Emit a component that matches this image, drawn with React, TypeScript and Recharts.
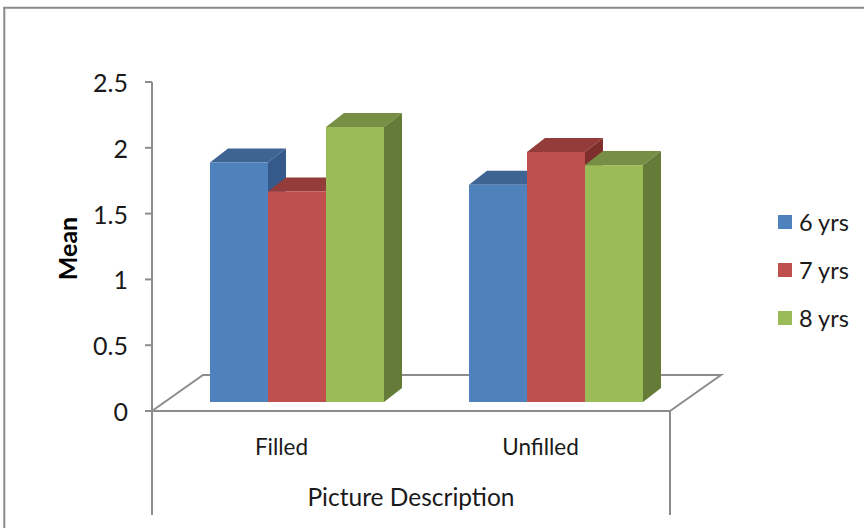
import React from 'react';
import { BarChart, Bar, XAxis, YAxis } from 'recharts';

const categories = ['Filled', 'Unfilled'];
const series6 = [1.82, 1.65];
const series7 = [1.6, 1.9];
const series8 = [2.09, 1.8];
const seriesNames = ['6 yrs', '7 yrs', '8 yrs'];
const seriesKeys = ['s6', 's7', 's8'];
const yTicks = [0, 0.5, 1, 1.5, 2, 2.5];

const data = categories.map((name, i) => ({
  name,
  s6: series6[i],
  s7: series7[i],
  s8: series8[i],
}));

const FRONT = ['#4F81BD', '#C0504D', '#9BBB59'];
const TOP = ['#3D6493', '#933C3A', '#778F45'];
const SIDE = ['#34598A', '#7E2F2D', '#657C38'];

const W = 864;
const H = 528;
const PL = 152;
const PT = 82;
const PR = 670;
const PB = 411;
const FDX = 51;
const FDY = -36;
const SX = 16;
const SY = -9;
const BDX = 18;
const BDY = -14;
const FONT = 'Lato, "Noto Sans", sans-serif';
const AXIS = '#8C8C8C';
const TEXT = '#1a1a1a';

const makeShape = (idx: number) => (props: any) => {
  const { x, y, width, height } = props;
  if (width == null || height == null) return null;
  const x0 = x + SX;
  const y0 = y + SY;
  const w = width;
  const h = height;
  const top = `${x0},${y0} ${x0 + BDX},${y0 + BDY} ${x0 + w + BDX},${y0 + BDY} ${x0 + w},${y0}`;
  const side = `${x0 + w},${y0} ${x0 + w + BDX},${y0 + BDY} ${x0 + w + BDX},${y0 + h + BDY} ${x0 + w},${y0 + h}`;
  return (
    <g>
      <polygon points={top} fill={TOP[idx]} />
      <polygon points={side} fill={SIDE[idx]} />
      <rect x={x0} y={y0} width={w} height={h} fill={FRONT[idx]} />
    </g>
  );
};

const XTick = (props: any) => {
  const { x, y, payload } = props;
  return (
    <text x={x} y={y + 35} textAnchor="middle" dominantBaseline="central" fontSize={22.5} fontFamily={FONT} fill={TEXT}>
      {payload.value}
    </text>
  );
};

const YTick = (props: any) => {
  const { x, y, payload } = props;
  return (
    <text x={x - 17} y={y} textAnchor="end" dominantBaseline="central" fontSize={25} fontFamily={FONT} fill={TEXT}>
      {String(payload.value)}
    </text>
  );
};

export default function App() {
  return (
    <div style={{ position: 'absolute', left: 0, top: 0, width: W, height: H, background: '#fff', overflow: 'hidden' }}>
      <svg width={W} height={H} style={{ position: 'absolute', left: 0, top: 0 }}>
        <line x1={4.3} y1={7} x2={4.3} y2={H} stroke="#8A8A8A" strokeWidth={2} />
        <line x1={3.3} y1={7.8} x2={W} y2={7.8} stroke="#8A8A8A" strokeWidth={2} />
        <polyline
          points={`${PL},${PB} ${PL + FDX},${PB + FDY} ${PR + FDX},${PB + FDY} ${PR},${PB}`}
          fill="none"
          stroke={AXIS}
          strokeWidth={2}
        />
        <line x1={PL - 7} y1={PB} x2={PR} y2={PB} stroke={AXIS} strokeWidth={2} />
        <line x1={PL} y1={PB} x2={PL} y2={515} stroke={AXIS} strokeWidth={2} />
        <line x1={PR} y1={PB} x2={PR} y2={515} stroke={AXIS} strokeWidth={2} />
      </svg>
      <div style={{ position: 'absolute', left: 0, top: 0 }}>
        <BarChart
          width={W}
          height={H}
          data={data}
          margin={{ top: PT, right: W - PR, left: 0, bottom: 0 }}
          barCategoryGap={42}
          barGap={0}
        >
          <XAxis
            dataKey="name"
            height={H - PB}
            axisLine={false}
            tickLine={false}
            tickSize={0}
            tickMargin={0}
            tick={<XTick />}
            label={{
              content: (p: any) => {
                const vb = p.viewBox || { x: PL, y: PB, width: PR - PL, height: H - PB };
                return (
                  <text x={vb.x + vb.width / 2} y={496} textAnchor="middle" dominantBaseline="central" fontSize={24.5} fontFamily={FONT} fill={TEXT}>
                    Picture Description
                  </text>
                );
              },
            }}
          />
          <YAxis
            width={PL}
            domain={[0, 2.5]}
            ticks={yTicks}
            interval={0}
            axisLine={{ stroke: AXIS, strokeWidth: 2 }}
            tickLine={{ stroke: AXIS, strokeWidth: 2 }}
            tickSize={7}
            tickMargin={0}
            tick={<YTick />}
            label={{
              content: (p: any) => {
                const vb = p.viewBox || { x: 0, y: PT, width: PL, height: PB - PT };
                const cx = 67;
                const cy = vb.y + vb.height / 2 + 2;
                return (
                  <text x={cx} y={cy} transform={`rotate(-90 ${cx} ${cy})`} textAnchor="middle" dominantBaseline="central" fontSize={25} fontWeight="bold" fontFamily={FONT} fill="#000">
                    Mean
                  </text>
                );
              },
            }}
          />
          {seriesKeys.map((k, i) => (
            <Bar key={k} dataKey={k} name={seriesNames[i]} fill={FRONT[i]} shape={makeShape(i)} isAnimationActive={false} />
          ))}
        </BarChart>
      </div>
      <svg width={W} height={H} style={{ position: 'absolute', left: 0, top: 0, pointerEvents: 'none' }}>
        {seriesNames.map((n, i) => (
          <g key={n}>
            <rect x={778} y={222 + i * 48 - 7} width={14} height={14} fill={FRONT[i]} />
            <text x={799} y={222 + i * 48} dominantBaseline="central" fontSize={23.5} fontFamily={FONT} fill={TEXT}>
              {n}
            </text>
          </g>
        ))}
      </svg>
    </div>
  );
}
